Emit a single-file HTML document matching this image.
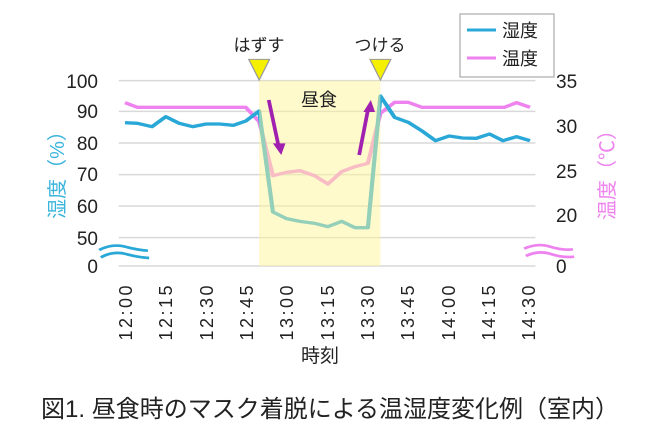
<!DOCTYPE html>
<html><head><meta charset="utf-8"><style>
html,body{margin:0;padding:0;background:#fff;}
svg{display:block;font-family:"Liberation Sans","Noto Sans CJK JP",sans-serif;}
</style></head><body>
<svg width="650" height="440" viewBox="0 0 650 440" xmlns="http://www.w3.org/2000/svg">
<g transform="scale(0.416667,0.333333)">
  <g stroke="#d9d9d9" stroke-width="4.5">
    <line x1="285" y1="242" x2="1285" y2="242"/>
    <line x1="285" y1="334" x2="1285" y2="334"/>
    <line x1="285" y1="429" x2="1285" y2="429"/>
    <line x1="285" y1="524" x2="1285" y2="524"/>
    <line x1="285" y1="618" x2="1285" y2="618"/>
    <line x1="285" y1="713" x2="1285" y2="713"/>
    <line x1="285" y1="798" x2="1285" y2="798"/>
  </g>
  <polyline fill="none" stroke="#ee82ee" stroke-width="10" stroke-linejoin="round" points="300,308 330,322 590,322 622,365 655,527 688,517 720,512 755,527 787,552 820,515 852,500 883,490 913,340 947,307 980,307 1013,322 1210,322 1240,308 1272,322"/>
  <polyline fill="none" stroke="#29a8d8" stroke-width="10" stroke-linejoin="round" points="300,368 330,370 365,380 398,350 430,370 463,380 495,372 527,372 560,376 590,363 622,333 655,636 688,656 720,664 755,670 787,680 820,664 852,683 883,683 913,288 947,352 980,367 1013,393 1045,422 1078,408 1110,414 1143,415 1175,402 1207,422 1240,410 1272,422"/>
  <rect x="622" y="242" width="291" height="556" fill="#fff59a" fill-opacity="0.5"/>
  <g stroke="#a020b0" stroke-width="9" fill="#a020b0">
    <line x1="645" y1="300" x2="668" y2="435"/>
    <polygon points="655,430 685,430 675,465" stroke="none"/>
    <line x1="862" y1="465" x2="883" y2="330"/>
    <polygon points="872,336 900,336 890,300" stroke="none"/>
  </g>
  <polygon points="597,178 647,178 622,240" fill="#f5f000" stroke="#999" stroke-width="3"/>
  <polygon points="888,178 938,178 913,240" fill="#f5f000" stroke="#999" stroke-width="3"/>
  <g fill="none" stroke="#29a8d8" stroke-width="8">
    <path d="M238,750 Q270,730 300,740 T355,752"/>
    <path d="M242,772 Q272,752 302,762 T358,774"/>
  </g>
  <g fill="none" stroke="#ee82ee" stroke-width="8">
    <path d="M1258,746 Q1290,728 1320,740 T1375,748"/>
    <path d="M1262,768 Q1292,750 1322,762 T1378,770"/>
  </g>
</g>
<rect x="460" y="14" width="94" height="63" fill="#fff" stroke="#aaa" stroke-width="1.2"/>
<line x1="467" y1="30" x2="496" y2="30" stroke="#29a8d8" stroke-width="3"/>
<line x1="467" y1="58" x2="496" y2="58" stroke="#ee82ee" stroke-width="3"/>
<g font-size="18" fill="#222">
  <text x="502" y="37">湿度</text>
  <text x="502" y="65">温度</text>
  <text x="259" y="51" text-anchor="middle" font-size="17">はずす</text>
  <text x="380" y="51" text-anchor="middle" font-size="17">つける</text>
  <text x="319" y="106" text-anchor="middle" font-size="18">昼食</text>
</g>
<g font-size="19" fill="#222" text-anchor="end">
  <text x="98" y="88">100</text><text x="98" y="118">90</text><text x="98" y="150">80</text>
  <text x="98" y="181">70</text><text x="98" y="213">60</text><text x="98" y="245">50</text><text x="98" y="273">0</text>
</g>
<g font-size="19" fill="#222">
  <text x="556" y="88">35</text><text x="556" y="133">30</text><text x="556" y="178">25</text>
  <text x="556" y="222">20</text><text x="556" y="273">0</text>
</g>
<text transform="translate(64,170) rotate(-90)" text-anchor="middle" font-size="20" fill="#3ab4dc">湿度（%）</text>
<text transform="translate(614,170) rotate(-90)" text-anchor="middle" font-size="20" fill="#ee82ee">温度（℃）</text>
<g font-size="18" fill="#222" text-anchor="end" letter-spacing="2.5">
  <text transform="translate(132,283) rotate(-90)">12:00</text>
  <text transform="translate(172,283) rotate(-90)">12:15</text>
  <text transform="translate(213,283) rotate(-90)">12:30</text>
  <text transform="translate(253,283) rotate(-90)">12:45</text>
  <text transform="translate(293,283) rotate(-90)">13:00</text>
  <text transform="translate(334,283) rotate(-90)">13:15</text>
  <text transform="translate(374,283) rotate(-90)">13:30</text>
  <text transform="translate(414,283) rotate(-90)">13:45</text>
  <text transform="translate(455,283) rotate(-90)">14:00</text>
  <text transform="translate(495,283) rotate(-90)">14:15</text>
  <text transform="translate(535,283) rotate(-90)">14:30</text>
</g>
<text x="320" y="362" text-anchor="middle" font-size="19" fill="#222">時刻</text>
<text x="330" y="417" text-anchor="middle" font-size="24" fill="#222">図1. 昼食時のマスク着脱による温湿度変化例（室内）</text>
</svg>
</body></html>
